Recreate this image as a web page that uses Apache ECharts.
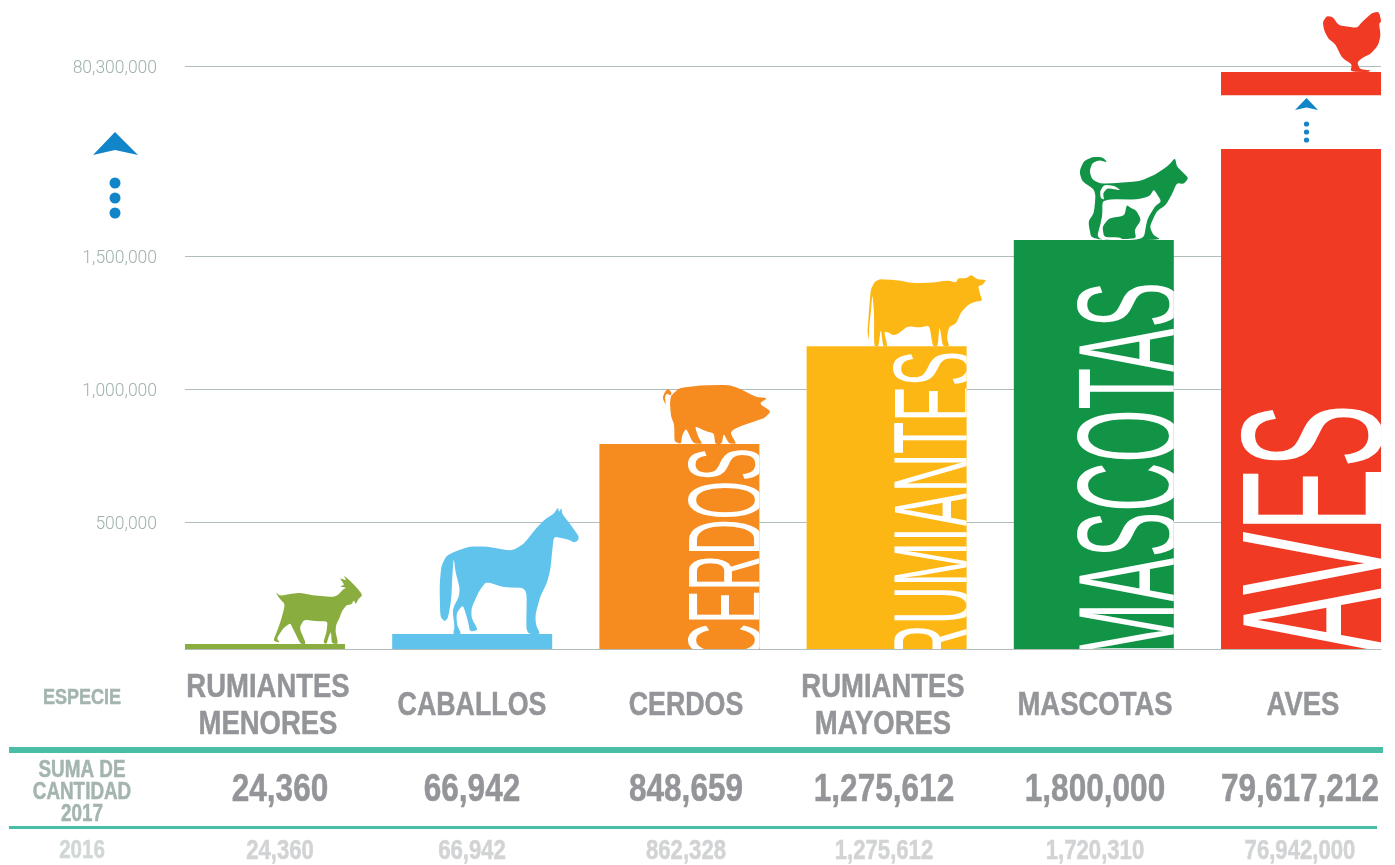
<!DOCTYPE html>
<html><head><meta charset="utf-8">
<style>html,body{margin:0;padding:0;background:#fff}#c{width:1395px;height:865px}</style>
<script src="https://cdn.jsdelivr.net/npm/echarts@6/dist/echarts.min.js"></script>
</head><body><div id="c"></div>
<script>
var categories = ['RUMIANTES\nMENORES','CABALLOS','CERDOS','RUMIANTES\nMAYORES','MASCOTAS','AVES'];
var barLabels = ['', '', 'CERDOS','RUMIANTES','MASCOTAS','AVES'];
var tickValues = [500000,1000000,1500000,80300000];
// Bar heights as read against the broken axis
var barLower = [41000,79000,793000,1160000,1560000,1902000];
var avesGapTop = [null,null,null,null,null,76942000];
var avesTop = [null,null,null,null,null,79617212];
var barTopValues = [41000,79000,793000,1160000,1560000,79617212];
var colors = ['#8aad3f','#60c3ec','#f68b20','#fdb714','#129447','#f03a24'];
var sum2017 = ['24,360','66,942','848,659','1,275,612','1,800,000','79,617,212'];
var sum2016 = ['24,360','66,942','862,328','1,275,612','1,720,310','76,942,000'];

var icons = [
 {w:88,h:68,dx:53,path:'M322 279L335 290L370 284L395 281L430 288L490 294L505 288L520 272L530 266L510 262L525 258L510 238L530 245L522 230L540 245L560 265L578 288L565 300L558 315L552 303L545 315L530 318L517 335L510 355L500 375L498 395L504 420L504 432L487 430L485 395L478 410L472 432L462 428L472 395L475 365L440 365L405 360L392 385L412 432L395 432L375 390L365 370L345 385L325 415L335 428L315 422L330 385L340 355L350 315L335 300Z'},
 {w:139,h:126,dx:37,path:'M1163 25L1165 40L1173 27L1175 45L1195 70L1225 112L1222 125L1210 130L1190 120L1150 112L1145 160L1140 210L1130 250L1110 290L1095 345L1097 375L1110 402L1075 402L1068 385L1070 265L1000 263L960 250L945 250L925 280L905 325L905 355L925 390L900 395L895 365L880 315L860 340L862 375L875 402L850 402L855 380L848 330L868 290L870 265L858 220L852 175L848 230L845 300L835 355L825 365L812 350L810 260L815 200L830 170L860 155L900 142L950 142L1025 155L1060 135L1100 85L1125 60L1150 45Z'},
 {w:107,h:59,dx:37,path:'M95 408L120 385L180 378L265 376L300 388L345 412L380 415L355 432L390 455L370 475L340 485L310 495L280 508L270 520L288 552L265 550L250 520L245 552L225 552L222 520L200 515L165 498L175 530L188 552L160 550L140 505L128 525L125 552L105 545L105 495L95 470L92 430ZM97 400L88 388L78 395L70 415L80 437L77 412L83 401L94 408Z'},
 {w:118,h:71,dx:40,path:'M720 58L770 60L820 70L880 68L925 62L950 68L955 55L980 55L995 45L1012 58L1040 60L1028 75L1015 78L1022 105L1028 122L1005 125L985 135L965 155L950 190L928 200L922 235L930 258L910 258L900 195L895 258L880 258L870 195L840 202L805 198L775 222L760 225L745 215L735 215L745 258L732 258L725 205L718 258L705 258L705 160L700 100L695 160L690 200L690 240L685 215L690 150L695 90L705 68Z'},
 {w:108,h:83,dx:40,path:'M205 488L190 472L160 472L135 485L122 515L130 545L165 568L170 590L165 640L148 665L158 720L365 720L340 705L330 680L350 635L378 615L395 585L410 550L430 553L445 535L425 515L410 500L405 475L385 498L345 525L300 545L230 550L185 552L160 540L152 515L160 490L180 482ZM172 720L190 650L190 605L215 598L290 600L330 590L342 568L365 605L345 620L322 660L312 720ZM195 712L240 712L250 718L290 715L285 690L305 660L290 632L275 625L262 615L255 648L210 655L190 680ZM245 572L205 565L192 580L195 600L185 595L183 575L195 555L225 558Z'},
 {w:58,h:60,dx:51,path:'M860 48L878 50L895 75L950 83L965 65L995 38L1015 35L1022 65L1015 70L1020 105L1012 135L990 160L965 172L950 185L958 205L990 208L985 214L930 212L935 190L905 172L885 130L865 115L852 90L848 65Z'}
];
// round the corners of the traced silhouettes
function soften(d){
  var out='';
  d.split('Z').forEach(function(sub){
    if(!sub.trim()) return;
    var pts=sub.replace('M','').split('L').map(function(s){return s.trim().split(' ').map(Number);});
    var n=pts.length;
    function mix(a,b,t){return [a[0]+(b[0]-a[0])*t,a[1]+(b[1]-a[1])*t];}
    for(var i=0;i<n;i++){
      var p=pts[i],a=mix(p,pts[(i+n-1)%n],0.28),b=mix(p,pts[(i+1)%n],0.28);
      out+=(i==0?'M':'L')+a[0].toFixed(1)+' '+a[1].toFixed(1)+'Q'+p[0]+' '+p[1]+' '+b[0].toFixed(1)+' '+b[1].toFixed(1);
    }
    out+='Z';
  });
  return out;
}

var iconData = categories.map(function(c,i){
  return {value:[i,barTopValues[i]],symbol:'path://'+soften(icons[i].path),symbolSize:[icons[i].w,icons[i].h],
    symbolOffset:[icons[i].dx,-icons[i].h/2],itemStyle:{color:colors[i],opacity:1}};
});

var COND='"Liberation Sans",sans-serif';
// text placement inside bars: top edge of the capitals (x) and the end of the word (y)
var wordStyle = {
  2:{x:688,end:448,size:105,sx:0.47},
  3:{x:893,end:351,size:115,sx:0.46},
  4:{x:1077,end:282,size:145,sx:0.47},
  5:{x:1240,end:404,size:200,sx:0.478}
};

function gText(x,y,t,size,color,opt){
  opt=opt||{};
  return {type:'text',x:x,y:y,scaleX:opt.sx||0.82,z:20,
    style:{text:t,font:'bold '+size+'px "Liberation Sans"',fill:color,stroke:color,lineWidth:0.5,textAlign:'center',textVerticalAlign:'middle',lineHeight:opt.lh||size}};
}
var centers=[268,472,686,883,1095,1303];
var centers2=[280,472,686,884,1095,1300];
var g=[];
g.push(gText(82,698,'ESPECIE',22,'#a3b5ae'));
categories.forEach(function(c,i){g.push(gText(centers[i],706,c,33.5,'#939598',{lh:37,sx:i==1||i==2?0.8:0.82}));});
g.push({type:'rect',shape:{x:9,y:747,width:1374,height:6},style:{fill:'#4abda6'},z:20});
g.push(gText(82,793,'SUMA DE\nCANTIDAD\n2017',23,'#a3b5ae',{lh:22}));
sum2017.forEach(function(s,i){g.push(gText(centers2[i],790,s,38.5,'#939598'));});
g.push({type:'rect',shape:{x:9,y:826,width:1368,height:3},style:{fill:'#4abda6'},z:20});
g.push(gText(82,851,'2016',25,'#d0d8d5'));
sum2016.forEach(function(s,i){g.push(gText(centers2[i],852,s,27,'#d1d3d4'));});
// broken-axis arrows
g.push({type:'polygon',shape:{points:[[115,132],[138,155],[115,150],[93,155]]},style:{fill:'#1285c8'},z:20});
[183,198,213].forEach(function(y){g.push({type:'circle',shape:{cx:115,cy:y,r:5.5},style:{fill:'#1285c8'},z:20});});
g.push({type:'polygon',shape:{points:[[1306.5,98],[1318,110],[1306.5,107.5],[1295,110]]},style:{fill:'#1285c8'},z:20});
[124,132,140].forEach(function(y){g.push({type:'circle',shape:{cx:1306.5,cy:y,r:2.6},style:{fill:'#1285c8'},z:20});});

var chart=echarts.init(document.getElementById('c'),null,{renderer:'canvas'});
function barSeries(name,vals,color){
  return {type:'bar',name:name,barWidth:160,barGap:'-100%',z:3,itemStyle:{color:color},
    data:vals.map(function(v,i){return [i,v];})};
}
chart.setOption({
  animation:false,
  backgroundColor:'#fff',
  grid:{left:185,right:14,top:66,bottom:216},
  xAxis:{type:'value',min:-0.386,max:5.386,splitLine:{show:false},axisTick:{show:false},axisLabel:{show:false},
    axisLine:{show:true,onZero:false,lineStyle:{color:'#b3bcb9',width:1}}},
  yAxis:{type:'value',min:22556,max:80300000,
    breaks:[
      {start:1902001,end:76942000,gap:'9.2%'},
      {start:76950000,end:79610000,gap:'3.3%'},
      {start:79620000,end:80290000,gap:'0.45%'}
    ],
    breakArea:{show:false,expandOnClick:false},
    axisLine:{show:false},axisTick:{show:false,customValues:tickValues},
    splitLine:{show:true,lineStyle:{color:'#aebfb9',width:1}},
    axisLabel:{customValues:tickValues,margin:28,color:'#9fb2ab',fontFamily:'Roboto',fontWeight:300,fontSize:17.5,verticalAlign:'top',lineHeight:5,
      formatter:function(v){return Math.round(v).toLocaleString('en-US');}}
  },
  graphic:g,
  series:[
    barSeries('avesTop',avesTop,colors[5]),
    barSeries('avesGap',avesGapTop,'#ffffff'),
    barSeries('lower',barLower,function(p){return colors[p.value[0]];}),
    {type:'scatter',z:5,clip:false,data:iconData},
    {type:'custom',z:6,clip:false,
      data:barLabels.map(function(t,i){return [i,barLower[i]];}),
      renderItem:function(params,api){
        var i=api.value(0);var t=barLabels[i];
        if(!t) return null;
        var s=wordStyle[i];
        var c=api.coord([i,barLower[i]]);
        var base=api.coord([i,22556]);
        var left=c[0]-80;
        return {type:'group',clipPath:{type:'rect',shape:{x:left,y:c[1],width:160,height:base[1]-c[1]}},
          children:[{type:'text',x:s.x+s.size*(0.72+0.207),y:s.end,rotation:Math.PI/2,scaleX:s.sx,
            style:{text:t,font:s.size+'px '+COND,fill:'#fff',stroke:colors[i],lineWidth:s.size*0.012,textAlign:'right',textVerticalAlign:'bottom'}}]};
      }}
  ]
});
</script></body></html>
